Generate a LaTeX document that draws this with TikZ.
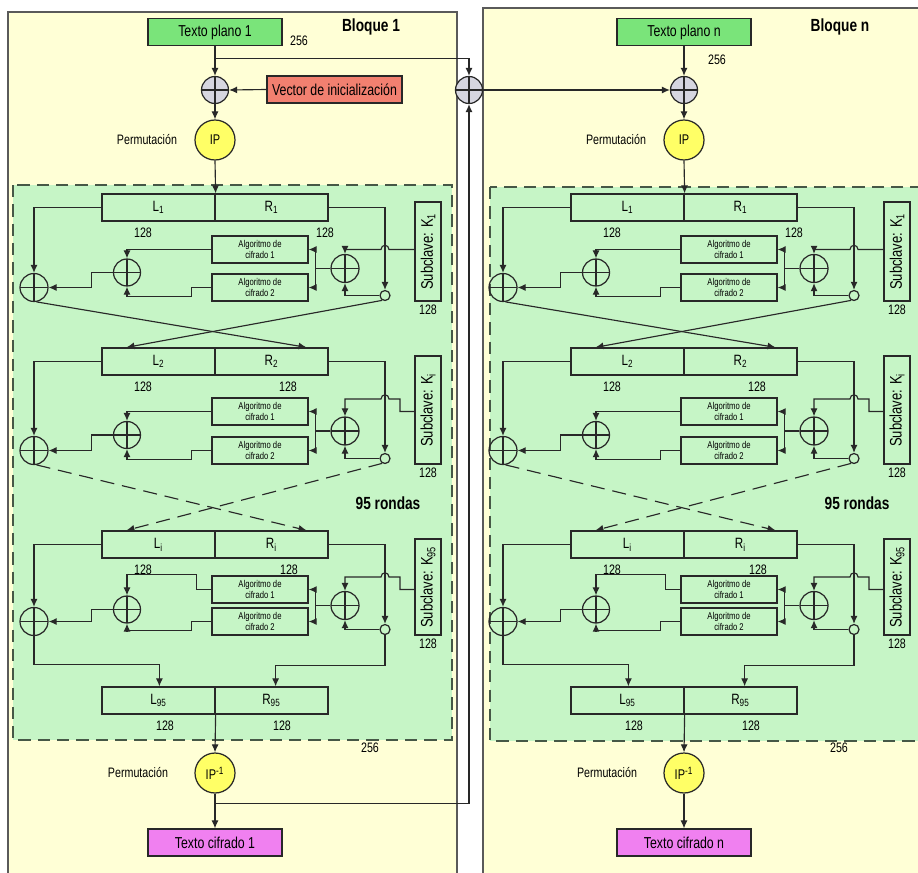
\documentclass[tikz,border=0pt]{standalone}
\usepackage{fontspec}
\setmainfont{Liberation Sans}[FakeStretch=0.78]
\usetikzlibrary{arrows.meta}

\definecolor{fondobloque}{RGB}{255,255,214}
\definecolor{fondoronda}{RGB}{198,245,198}
\definecolor{verdetexto}{RGB}{122,228,122}
\definecolor{salmon}{RGB}{242,128,112}
\definecolor{amarilloip}{RGB}{255,255,102}
\definecolor{rosacifrado}{RGB}{240,128,240}
\definecolor{grisxor}{RGB}{214,214,224}
\definecolor{linea}{RGB}{40,40,40}
\definecolor{borderonda}{RGB}{70,88,70}
\definecolor{bordebloque}{RGB}{90,90,90}

\newlength{\pxl}
\setlength{\pxl}{0.02cm}

\tikzset{
  flecha/.style={draw=linea, line width=0.65pt, -{Latex[length=4.6pt,width=4pt]}},
  caja/.style={draw=linea, line width=0.7pt, inner sep=0pt, font=\fontsize{8.5}{9}\selectfont},
  mitad/.style={caja, minimum width=113\pxl, minimum height=27\pxl},
  alg/.style={caja, minimum width=96\pxl, minimum height=27\pxl, align=center, font=\fontsize{5.6}{6.4}\selectfont},
  subclave/.style={caja, rotate=90, minimum height=26\pxl, font=\fontsize{9.5}{10}\selectfont},
  sumaxor/.style={circle, draw=linea, line width=0.7pt, inner sep=0pt, minimum size=27\pxl,
    path picture={\draw[linea, line width=0.6pt] (path picture bounding box.north) -- (path picture bounding box.south)
      (path picture bounding box.west) -- (path picture bounding box.east);}},
  nodito/.style={circle, draw=linea, line width=0.7pt, inner sep=0pt, minimum size=10\pxl},
  perm/.style={circle, draw=linea, line width=0.7pt, fill=amarilloip, inner sep=0pt, minimum size=40\pxl, font=\fontsize{8}{9}\selectfont},
  texto/.style={caja, minimum width=134\pxl, minimum height=27\pxl, font=\fontsize{9}{10}\selectfont},
  etiq/.style={inner sep=0pt, font=\fontsize{7.8}{9}\selectfont},
  titulo/.style={inner sep=0pt, font=\fontsize{10}{11}\selectfont\bfseries},
  zona/.style={fill=fondoronda, draw=borderonda, line width=0.9pt, dash pattern=on 7pt off 4pt},
}

% una ronda: #1 prefijo, #2 y superior, #3 L, #4 R, #5 K, #6 alg 1, #7 alg 2, #8 x del 128, #9 tipo
\newcommand{\ronda}[9]{%
  \pgfmathsetmacro{\mA}{#2+#6+13.5}%
  \pgfmathsetmacro{\mB}{#2+#7+13.5}%
  \pgfmathsetmacro{\mC}{(\mA+\mB)/2}%
  \pgfmathsetmacro{\yK}{(#2+8+\mB+13.5)/2}%
  \pgfmathsetmacro{\hK}{\mB+13.5-#2-8}%
  \pgfmathsetmacro{\yH}{#2+#6+1}%
  % cajas
  \node[mitad] (#1L) at (158.5, #2+13.5) {L\textsubscript{#3}};
  \node[mitad] (#1R) at (271.5, #2+13.5) {R\textsubscript{#4}};
  \node[alg] (#1A) at (260, \mA) {Algoritmo de\\cifrado 1};
  \node[alg] (#1B) at (260, \mB) {Algoritmo de\\cifrado 2};
  \node[subclave, minimum width=\hK\pxl] (#1K) at (428, \yK) {Subclave: K\textsubscript{#5}};
  \node[sumaxor] (#1X) at (127, \mC+4) {};
  \node[sumaxor, minimum size=28\pxl] (#1Y) at (34, \mB) {};
  \node[sumaxor, minimum size=28\pxl] (#1Z) at (345, \mC) {};
  \node[nodito] (#1o) at (385, \mB+8) {};
  \node[etiq] (#1n) at (143, #2+39) {128};
  \node[etiq] (#1m) at (#8, #2+39) {128};
  \node[etiq, below=3\pxl] (#1k) at (#1K.west) {128};
  % conexiones
  \draw[flecha] (#1L.west) -| (#1Y.north);
  \draw[flecha] (#1R.east) -| (#1o.north);
  \ifnum#9=0\relax
    \draw[flecha] (#1K.north |- #1A.east) -- (389,\mA) .. controls (389,\mA-5.5) and (381,\mA-5.5) .. (381,\mA) -| (#1Z.north);
  \else
    \draw[flecha] (#1K.north |- #1A.east) -- (400,\mA) -- (400,\yH) -- (389,\yH) .. controls (389,\yH-5.5) and (381,\yH-5.5) .. (381,\yH) -| (#1Z.north);
  \fi
  \draw[flecha] (#1o.west) -| (#1Z.south);
  \draw[flecha] (#1Z.west) -- ++(-15,0) |- (#1A.east);
  \draw[flecha] (#1Z.west) -- ++(-15,0) |- (#1B.east);
  \ifnum#9=2\relax
    \draw[flecha] (#1A.west) -- ++(-15,0) -- ++(0,-15) -| (#1X.north);
  \else
    \draw[flecha] (#1A.west) -| (#1X.north);
  \fi
  \draw[flecha] (#1B.west) -- ++(-20,0) -- ++(0,9) -| (#1X.south);
  \draw[flecha] (#1X.west) -- ++(-21,0) |- (#1Y.east);
}

% un bloque: #1 prefijo, #2 numero
\newcommand{\bloque}[2]{%
  \node[texto, fill=verdetexto] (#1tp) at (215, 32) {Texto plano #2};
  \node[sumaxor, fill=grisxor] (#1xa) at (215, 90) {};
  \node[perm] (#1ip) at (215, 140) {IP};
  \node[etiq] (#1pa) at (147, 140) {Permutación};
  \node[titulo] (#1bq) at (371, 27) {Bloque #2};
  \ronda{#11}{194}{1}{1}{1}{42}{80}{325}{0}
  \ronda{#12}{348}{2}{2}{i}{50}{89}{288}{1}
  \ronda{#13}{531}{i}{i}{95}{45}{77}{289}{2}
  \node[titulo] (#1rd) at (388, 503) {95 rondas};
  % cruces entre rondas
  \draw[flecha] (#11Y.-80) -- ([xshift=-22\pxl]#12R.north east);
  \draw[flecha] (#11o.-120) -- ([xshift=25\pxl]#12L.north west);
  \draw[flecha, dash pattern=on 8pt off 4.5pt] (#12Y.-80) -- ([xshift=-22\pxl]#13R.north east);
  \draw[flecha, dash pattern=on 8pt off 4.5pt] (#12o.-120) -- ([xshift=25\pxl]#13L.north west);
  % salida
  \node[mitad] (#1fL) at (158.5, 700.5) {L\textsubscript{95}};
  \node[mitad] (#1fR) at (271.5, 700.5) {R\textsubscript{95}};
  \node[etiq] (#1fn) at (165, 726) {128};
  \node[etiq] (#1fm) at (282, 726) {128};
  \draw[flecha] (#13Y.south) -- ++(0,28) -| ([xshift=58\pxl]#1fL.north west);
  \draw[flecha] (#13o.south) -- ++(0,30) -| ([xshift=-53\pxl]#1fR.north east);
  \node[etiq] (#1dd) at (370, 748) {256};
  \node[perm] (#1ipf) at (215, 773) {IP\textsuperscript{-1}};
  \node[etiq] (#1pb) at (138, 773) {Permutación};
  \node[texto, fill=rosacifrado] (#1tc) at (215, 842.5) {Texto cifrado #2};
  \draw[flecha] (#1tp.south) -- (#1xa.north);
  \draw[flecha] (#1xa.south) -- (#1ip.north);
  \draw[flecha] (#1ip.south) -- (#11L.north east);
  \draw[flecha] (#1fL.south east) -- (#1ipf.north);
  \draw[flecha] (#1ipf.south) -- (#1tc.north);
}

\begin{document}
\begin{tikzpicture}[x=0.02cm, y=-0.02cm]
  \useasboundingbox (0,0) rectangle (918,872);
  \clip (0,0) rectangle (918,872);
  % fondos
  \draw[fill=fondobloque, draw=bordebloque, line width=0.7pt] (8,12) rectangle (457,890);
  \draw[fill=fondobloque, draw=bordebloque, line width=0.7pt] (483,8) rectangle (940,890);
  \draw[zona] (13,185) rectangle (452,740);
  \draw[zona] (490,187) rectangle (935,741);

  % bloques
  \bloque{a}{1}
  \begin{scope}[shift={(469,0)}]
    \bloque{b}{n}
  \end{scope}

  % entrada y encadenamiento
  \node[etiq] (ad) at (299, 41) {256};
  \node[etiq] (bd) at (717, 60) {256};
  \node[texto, fill=salmon, minimum width=135\pxl] (vi) at (334.5, 89.5) {Vector de inicialización};
  \node[sumaxor, fill=grisxor] (xm) at (469, 90) {};
  \draw[flecha] (vi.west) -- (axa.east);
  \draw[flecha] ([yshift=-12\pxl]atp.south) -| (xm.north);
  \draw[flecha] ([yshift=-10\pxl]aipf.south) -| (xm.south);
  \draw[flecha] (xm.east) -- (bxa.west);
\end{tikzpicture}
\end{document}
